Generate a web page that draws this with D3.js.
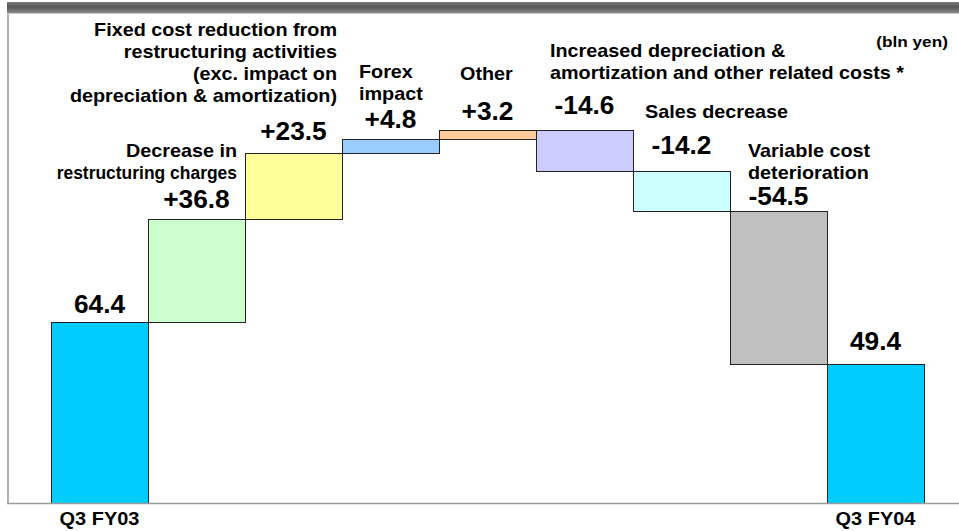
<!DOCTYPE html>
<html>
<head>
<meta charset="utf-8">
<script src="https://cdn.jsdelivr.net/npm/d3@7/dist/d3.min.js"></script>
<style>
  html, body { margin: 0; padding: 0; background: #fff; }
  svg { display: block; font-family: Arial, "Liberation Sans", Helvetica, sans-serif; font-weight: bold; }
</style>
</head>
<body>
<svg id="chart" width="959" height="531"></svg>
<script>
// Operating income bridge, Q3 FY03 -> Q3 FY04 (bln yen)
const steps = ["start", "restructuring", "fixedcost", "forex", "other", "depreciation", "sales", "variable", "end"];
const changes = [64.4, 36.8, 23.5, 4.8, 3.2, -14.6, -14.2, -54.5, 49.4];
const kinds = ["total", "delta", "delta", "delta", "delta", "delta", "delta", "delta", "total"];
const valueLabels = ["64.4", "+36.8", "+23.5", "+4.8", "+3.2", "-14.6", "-14.2", "-54.5", "49.4"];
const axisLabels = ["Q3 FY03", "", "", "", "", "", "", "", "Q3 FY04"];
const fills = ["#00CCFF", "#CCFFCC", "#FFFF99", "#99CCFF", "#FFCC99", "#CCCCFF", "#CCFFFF", "#C0C0C0", "#00CCFF"];

const svg = d3.select("#chart");
const W = 959, H = 531;
const plot = { left: 51, right: 924, top: 14, bottom: 503 };
const STRETCH = 1.1; // slightly widened lettering

// running totals for the waterfall
let run = 0;
const bars = steps.map((s, i) => {
  let lo, hi;
  if (kinds[i] === "total") { lo = 0; hi = changes[i]; run = changes[i]; }
  else { const prev = run; run += changes[i]; lo = Math.min(prev, run); hi = Math.max(prev, run); }
  return { key: s, lo, hi, fill: fills[i], label: valueLabels[i], axis: axisLabels[i] };
});

const x = d3.scaleBand().domain(steps).range([plot.left, plot.right]).padding(0);
const y = d3.scaleLinear().domain([0, 174]).range([plot.bottom, plot.top]);

// places a text at (px, py) with horizontal stretch
function stretchedText(parent, px, py, str, size, anchor, sx) {
  return parent.append("text")
    .attr("transform", `translate(${px},${py}) scale(${sx},1)`)
    .attr("text-anchor", anchor)
    .attr("font-size", size)
    .attr("fill", "#000")
    .text(str);
}

// header band
const defs = svg.append("defs");
const grad = defs.append("linearGradient").attr("id", "band").attr("x1", 0).attr("y1", 0).attr("x2", 0).attr("y2", 1);
grad.append("stop").attr("offset", "0%").attr("stop-color", "#7a7a7a");
grad.append("stop").attr("offset", "45%").attr("stop-color", "#555");
grad.append("stop").attr("offset", "100%").attr("stop-color", "#8c8c8c");
svg.append("rect").attr("x", 7).attr("y", 2).attr("width", W - 7).attr("height", 11).attr("fill", "url(#band)");
svg.append("rect").attr("x", 7).attr("y", 13).attr("width", W - 7).attr("height", 1).attr("fill", "#c8c8c8");

// frame: left edge
svg.append("line").attr("x1", 8).attr("x2", 8).attr("y1", 14).attr("y2", plot.bottom + 1)
  .attr("stroke", "#b0b0b0").attr("stroke-width", 2);

// bars
svg.append("g").selectAll("rect").data(bars).join("rect")
  .attr("x", d => x(d.key) + 0.5)
  .attr("y", d => Math.round(y(d.hi)) + 0.5)
  .attr("width", x.bandwidth())
  .attr("height", d => Math.round(y(d.lo)) - Math.round(y(d.hi)))
  .attr("fill", d => d.fill)
  .attr("stroke", "#222")
  .attr("stroke-width", 1);

// baseline
svg.append("line").attr("x1", 7).attr("x2", W).attr("y1", plot.bottom + 0.5).attr("y2", plot.bottom + 0.5)
  .attr("stroke", "#9a9a9a").attr("stroke-width", 1.5);

// value labels above each bar
const labelGap = [9, 11, 13, 11, 10, 16, 17, 6, 14];
const vg = svg.append("g");
bars.forEach((d, i) => {
  stretchedText(vg, x(d.key) + x.bandwidth() / 2, y(d.hi) - labelGap[i], d.label, 25, "middle", 1.05);
});

// category axis labels
const xAxis = d3.axisBottom(x).tickSize(0).tickFormat((d, i) => axisLabels[i]);
const ax = svg.append("g").attr("transform", `translate(0,${plot.bottom})`).call(xAxis);
ax.select(".domain").remove();
ax.selectAll("text")
  .attr("font-size", 19).attr("font-family", null).attr("fill", "#000")
  .attr("dy", null).attr("y", 22)
  .attr("transform", "scale(1.05,1)");

// descriptive notes
const notes = [
  { lines: ["Fixed cost reduction from", "restructuring activities", "(exc. impact on", "depreciation & amortization)"], x: 337, y: 36, anchor: "end" },
  { lines: ["Decrease in", "restructuring charges"], x: 237, y: 157, anchor: "end", sx: [STRETCH, 0.97] },
  { lines: ["Forex", "impact"], x: 359, y: 78, anchor: "start" },
  { lines: ["Other"], x: 460, y: 80, anchor: "start" },
  { lines: ["Increased depreciation &", "amortization and other related costs *"], x: 550, y: 57, anchor: "start" },
  { lines: ["Sales decrease"], x: 645, y: 118, anchor: "start" },
  { lines: ["Variable cost", "deterioration"], x: 748, y: 157, anchor: "start" }
];
const ng = svg.append("g");
notes.forEach(n => {
  n.lines.forEach((l, i) => stretchedText(ng, n.x, n.y + i * 22, l, 18, n.anchor, n.sx ? n.sx[i] : STRETCH));
});

stretchedText(svg, 948, 47, "(bln yen)", 15, "end", 1.15);
</script>
</body>
</html>
